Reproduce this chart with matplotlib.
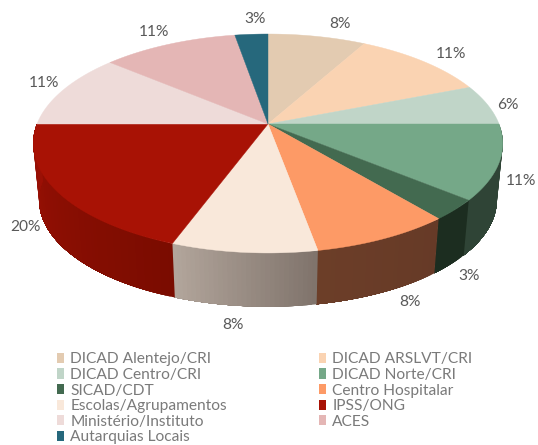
import numpy as np
import matplotlib
matplotlib.use('Agg')
import matplotlib.pyplot as plt
from matplotlib.patches import Patch
from matplotlib.colors import to_rgb

categories = ['DICAD Alentejo/CRI', 'DICAD ARSLVT/CRI', 'DICAD Centro/CRI', 'DICAD Norte/CRI',
              'SICAD/CDT', 'Centro Hospitalar', 'Escolas/Agrupamentos', 'IPSS/ONG',
              'Ministério/Instituto', 'ACES', 'Autarquias Locais']
# slice sizes, the printed labels are rounded
shares = [8, 11, 6, 11, 3, 8.15, 8.45, 19.4, 11.2, 11.1, 2.7]
share_labels = ['8%', '11%', '6%', '11%', '3%', '8%', '8%', '20%', '11%', '11%', '3%']

top_colors = ['#e3cbb1', '#fad3b2', '#c0d5c8', '#75a888', '#436a50', '#fd9a66',
              '#f9e8da', '#a81205', '#eedbd9', '#e4b6b5', '#26687c']
# wall shading, clockwise end of the slice first
wall_start = ['#e3cbb1', '#fad3b2', '#c0d5c8', '#2f4436', '#1c2d20', '#663a27',
              '#7f736b', '#7a0c00', '#eedbd9', '#e4b6b5', '#26687c']
wall_end = ['#e3cbb1', '#fad3b2', '#c0d5c8', '#2f4436', '#1c2d20', '#6c3e28',
            '#b3a69c', '#9c1005', '#eedbd9', '#e4b6b5', '#26687c']
label_pos = [(340, 24), (451, 54), (508, 105), (521, 181), (469, 276), (410, 302),
             (233, 325), (25, 227), (44, 83), (154, 32), (255, 19)]

# perspective of the pie in pixels
cx, cy = 268, 124
rx, ry, tilt = 231, 106, 0.178
depth, shrink = 57, 0.975


def project(theta, scale=1.0, drop=0):
    "theta is degrees clockwise from the top"
    t = np.radians(theta)
    w = 1 + tilt * np.cos(t)
    return cx + scale * rx * np.sin(t) / w, cy + drop - scale * ry * np.cos(t) / w


fig = plt.figure(figsize=(5.38, 4.45), dpi=100)
ax = fig.add_axes([0, 0, 1, 1])
ax.set_xlim(0, 538)
ax.set_ylim(445, 0)
ax.axis('off')

edges = np.concatenate([[0], np.cumsum(shares)]) / sum(shares) * 360

# walls first, every strip runs on to the end of its slice so no seams show
for i in range(len(shares)):
    a, b = max(edges[i], 90), min(edges[i + 1], 270)
    if a >= b:
        continue
    steps = np.linspace(a, b, int(b - a) + 2)
    c0, c1 = np.array(to_rgb(wall_start[i])), np.array(to_rgb(wall_end[i]))
    for j in range(len(steps) - 1):
        arc = np.linspace(steps[j], b, 40)
        tx, ty = project(arc)
        bx, by = project(arc, shrink, depth)
        f = (j + 0.5) / (len(steps) - 1)
        col = c0 + (c1 - c0) * f
        ax.fill(np.r_[tx, bx[::-1]], np.r_[ty, by[::-1]], color=col, lw=0, zorder=2)

# top face
for i in range(len(shares)):
    arc = np.linspace(edges[i], edges[i + 1], 80)
    x, y = project(arc)
    ax.fill(np.r_[cx, x], np.r_[cy, y], color=top_colors[i], lw=0.3, zorder=3)

for txt, pos in zip(share_labels, label_pos):
    ax.text(pos[0], pos[1], txt, ha='center', va='center', fontsize=11.2,
            family='Lato', color='#595959', zorder=4)

# legend is filled row by row in the reference, matplotlib fills columns
order = list(range(0, 11, 2)) + list(range(1, 11, 2))
handles = [Patch(color=top_colors[i], lw=0) for i in order]
names = [categories[i] for i in order]
ax.legend(handles, names, ncol=2, loc='upper left', bbox_to_anchor=(0.106, 0.208), frameon=False,
          prop={'family': 'Lato', 'size': 11.2}, labelcolor='#7a7a7a',
          handlelength=0.48, handleheight=0.62, handletextpad=0.38,
          labelspacing=0.1, columnspacing=5.9, borderpad=0, borderaxespad=0)

fig.savefig('out.png', dpi=100)
